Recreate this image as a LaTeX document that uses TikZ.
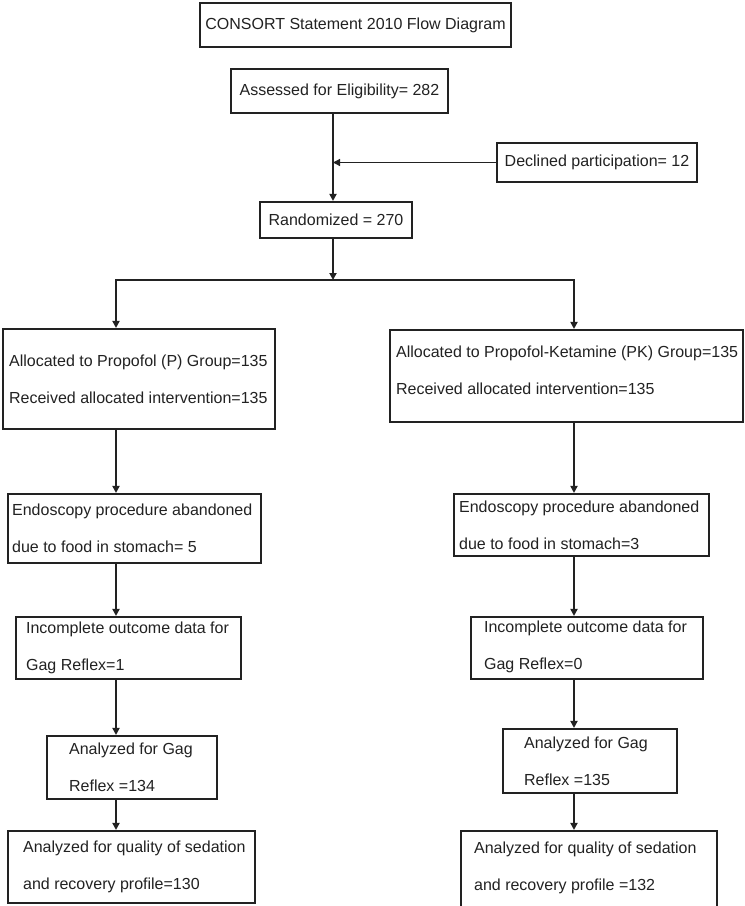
\documentclass[tikz,border=0pt]{standalone}
\usepackage{fontspec}
\setmainfont{Liberation Sans}
\usetikzlibrary{arrows.meta}
\definecolor{lc}{HTML}{222222}
\definecolor{tc}{HTML}{222222}
\begin{document}
\begin{tikzpicture}[x=1pt,y=-1pt,
  box/.style={draw=lc, line width=2.1pt, rectangle, inner sep=0pt, fill=white},
  ctxt/.style={font=\fontsize{16}{19}\selectfont, text=tc},
  txt/.style={font=\fontsize{16}{37}\selectfont, text=tc, align=left, inner sep=0pt, anchor=west},
  arr/.style={draw=lc, line width=2pt, -{Triangle[length=7pt,width=7pt]}},
  thinarr/.style={draw=lc, line width=1.3pt, -{Triangle[length=7pt,width=7pt]}}]
\useasboundingbox (0,0) rectangle (745,906);

% single-line boxes
\node[box, ctxt, minimum width=311pt, minimum height=44pt] (title) at (355.5,25) {CONSORT Statement 2010 Flow Diagram};
\node[box, ctxt, minimum width=217pt, minimum height=44pt] (assess) at (339.5,91) {Assessed for Eligibility= 282};
\node[box, ctxt, minimum width=200pt, minimum height=39pt] (decl) at (597,162.5) {Declined participation= 12};
\node[box, ctxt, minimum width=152pt, minimum height=36pt] (rand) at (336,220) {Randomized = 270};

% left column (P group)
\node[box, minimum width=272pt, minimum height=100pt] (pa) at (139,379) {};
\node[txt] (pat) at ([xshift=7pt]pa.west) {Allocated to Propofol (P) Group=135\\Received allocated intervention=135};
\node[box, minimum width=253pt, minimum height=69pt] (pe) at (134.5,528.5) {};
\node[txt] (pet) at ([xshift=5pt]pe.west) {Endoscopy procedure abandoned\\due to food in stomach= 5};
\node[box, minimum width=225pt, minimum height=62pt] (pi) at (128.5,648) {};
\node[txt] (pit) at ([xshift=11pt]pi.west) {Incomplete outcome data for\\Gag Reflex=1};
\node[box, minimum width=170pt, minimum height=63pt] (pg) at (132,767.5) {};
\node[txt] (pgt) at ([xshift=23pt]pg.west) {Analyzed for Gag\\Reflex =134};
\node[box, minimum width=247pt, minimum height=72pt] (pq) at (131.5,867) {};
\node[txt] (pqt) at ([xshift=16pt]pq.west) {Analyzed for quality of sedation\\and recovery profile=130};

% right column (PK group)
\node[box, minimum width=353pt, minimum height=92pt] (ka) at (566.5,376) {};
\node[txt] (kat) at ([xshift=7pt,yshift=6pt]ka.west) {Allocated to Propofol-Ketamine (PK) Group=135\\Received allocated intervention=135};
\node[box, minimum width=255pt, minimum height=62pt] (ke) at (581.5,525) {};
\node[txt] (ket) at ([xshift=6pt]ke.west) {Endoscopy procedure abandoned\\due to food in stomach=3};
\node[box, minimum width=232pt, minimum height=62pt] (ki) at (587,648) {};
\node[txt] (kit) at ([xshift=14pt,yshift=1pt]ki.west) {Incomplete outcome data for\\Gag Reflex=0};
\node[box, minimum width=174pt, minimum height=64pt] (kg) at (590,761) {};
\node[txt] (kgt) at ([xshift=22pt]kg.west) {Analyzed for Gag\\Reflex =135};
\node[box, minimum width=256pt, minimum height=81pt] (kq) at (589,871.5) {};
\node[txt] (kqt) at ([xshift=14pt,yshift=3.5pt]kq.west) {Analyzed for quality of sedation\\and recovery profile =132};

% guide coordinates
\coordinate (sp) at (333,0);
\coordinate (lx) at (116,0);
\coordinate (rx) at (574,0);
\coordinate (split) at (333,280);

% connectors
\draw[arr] (assess.south -| sp) -- (rand.north -| sp);
\draw[thinarr] (decl.west) -- (decl.west -| sp);
\draw[arr] (rand.south -| sp) -- (split);
\draw[arr] (split) -| (pa.north -| lx);
\draw[arr] (split) -| (ka.north -| rx);

\draw[arr] (pa.south -| lx) -- (pe.north -| lx);
\draw[arr] (pe.south -| lx) -- (pi.north -| lx);
\draw[arr] (pi.south -| lx) -- (pg.north -| lx);
\draw[arr] (pg.south -| lx) -- (pq.north -| lx);

\draw[arr] (ka.south -| rx) -- (ke.north -| rx);
\draw[arr] (ke.south -| rx) -- (ki.north -| rx);
\draw[arr] (ki.south -| rx) -- (kg.north -| rx);
\draw[arr] (kg.south -| rx) -- (kq.north -| rx);
\end{tikzpicture}
\end{document}
